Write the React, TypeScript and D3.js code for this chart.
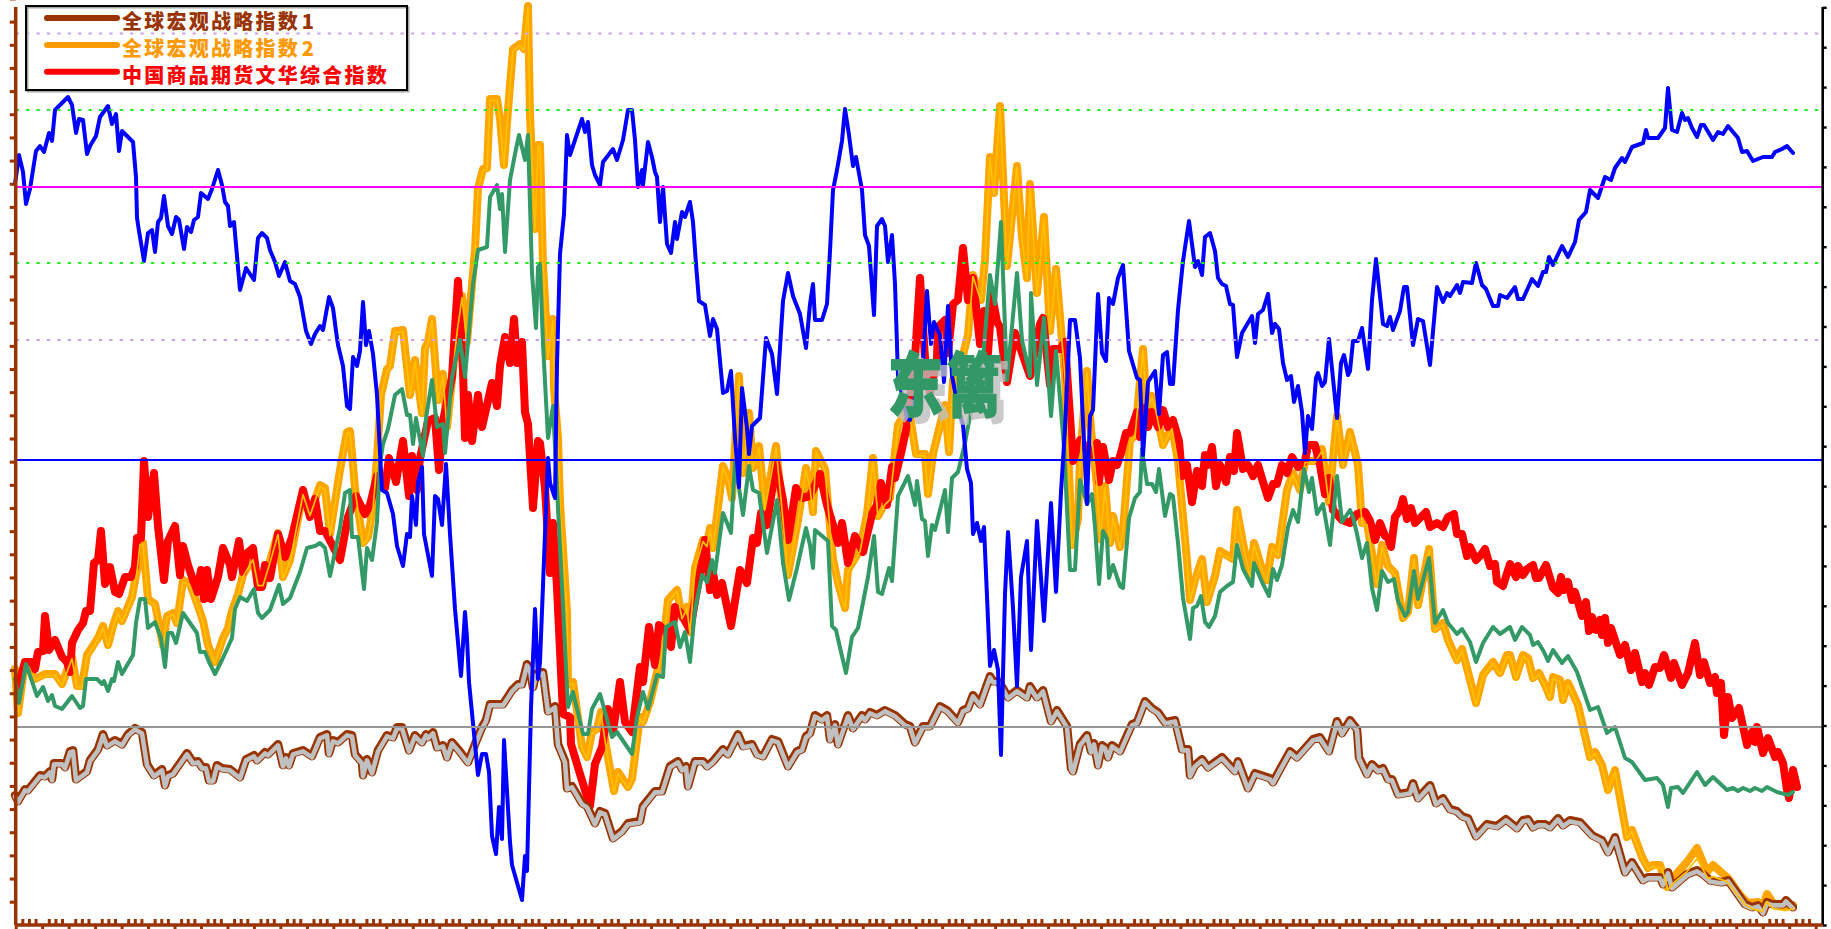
import React, { useEffect, useRef } from "react";
import * as d3 from "d3";

type Pt = [number, number];

// [session, index level]
const macro1: Pt[] = [[15,136],[18,130],[25,142],[28,141],[40,156],[45,155],[50,160],[52,152],[54,168],[62,168],[65,164],[70,180],[73,181],[76,152],[87,160],[90,171],[98,182],[103,197],[107,186],[115,191],[122,187],[128,197],[135,203],[142,199],[147,167],[154,156],[162,162],[165,146],[168,156],[173,158],[187,178],[193,169],[198,170],[202,164],[206,164],[209,151],[213,151],[217,166],[222,163],[230,162],[240,154],[246,172],[254,176],[257,171],[265,179],[268,177],[278,187],[283,166],[286,174],[289,166],[293,178],[303,181],[312,175],[320,194],[327,197],[329,178],[333,191],[338,189],[347,197],[352,196],[355,177],[362,169],[363,156],[367,172],[372,159],[378,181],[387,196],[393,194],[397,204],[402,204],[409,181],[415,196],[422,189],[426,197],[428,194],[433,199],[437,184],[443,186],[447,174],[452,189],[458,182],[468,169],[475,187],[482,204],[486,211],[490,227],[497,227],[503,227],[512,241],[518,247],[522,247],[527,267],[530,262],[533,244],[536,257],[543,259],[548,220],[555,225],[558,187],[565,170],[567,143],[572,145],[582,128],[587,125],[595,108],[600,120],[605,118],[613,93],[622,100],[628,108],[640,110],[643,125],[655,140],[662,140],[670,165],[678,170],[682,162],[686,165],[688,145],[695,170],[703,170],[707,165],[713,170],[723,182],[728,177],[738,197],[743,185],[752,187],[757,177],[763,175],[772,192],[778,190],[788,165],[797,180],[802,182],[806,195],[810,198],[815,216],[822,212],[827,216],[830,192],[835,207],[838,187],[848,216],[853,203],[862,216],[865,212],[870,219],[877,216],[885,221],[895,216],[905,207],[910,205],[915,189],[923,205],[930,205],[940,225],[947,221],[958,209],[963,221],[968,223],[973,236],[980,227],[990,255],[993,250],[998,250],[1003,243],[1008,234],[1017,241],[1027,234],[1030,245],[1037,234],[1043,241],[1051,210],[1057,221],[1067,205],[1071,163],[1073,160],[1080,187],[1087,196],[1091,180],[1094,188],[1098,166],[1102,186],[1105,184],[1108,174],[1112,186],[1120,180],[1132,207],[1137,209],[1145,230],[1152,223],[1158,219],[1165,209],[1175,211],[1182,182],[1188,182],[1190,156],[1195,166],[1202,172],[1208,164],[1222,174],[1235,160],[1238,170],[1248,143],[1255,158],[1270,153],[1273,149],[1280,162],[1290,180],[1297,174],[1313,192],[1320,194],[1329,180],[1337,210],[1342,198],[1350,211],[1357,202],[1359,174],[1367,157],[1372,167],[1378,161],[1383,163],[1388,152],[1392,152],[1398,137],[1410,139],[1413,148],[1418,133],[1430,146],[1436,128],[1443,133],[1450,122],[1457,120],[1462,115],[1468,113],[1476,95],[1487,107],[1497,105],[1506,112],[1517,103],[1523,111],[1528,112],[1533,104],[1538,107],[1545,107],[1550,104],[1558,113],[1563,106],[1570,111],[1580,109],[1592,96],[1602,91],[1608,79],[1615,94],[1625,59],[1632,69],[1643,51],[1648,54],[1660,54],[1663,47],[1668,59],[1672,44],[1687,57],[1697,61],[1703,57],[1710,51],[1722,49],[1728,51],[1745,27],[1752,24],[1758,26],[1763,19],[1767,29],[1773,27],[1783,27],[1786,31],[1793,24]];

const macro2: Pt[] = [[15,260],[18,216],[25,267],[35,250],[45,255],[55,255],[62,245],[72,272],[77,243],[82,243],[87,274],[98,291],[103,303],[108,284],[113,303],[118,318],[122,308],[132,332],[137,359],[140,386],[143,386],[148,330],[155,325],[163,284],[167,313],[173,316],[177,306],[183,349],[190,345],[198,323],[203,308],[208,284],[215,267],[223,291],[228,301],[232,318],[238,335],[243,354],[253,371],[258,345],[263,345],[270,368],[278,396],[283,352],[290,369],[303,436],[310,415],[320,444],[325,441],[330,395],[340,459],[347,497],[350,498],[355,441],[363,386],[368,392],[373,421],[377,471],[381,534],[387,560],[390,563],[395,598],[403,599],[410,534],[415,569],[422,516],[425,581],[428,587],[432,610],[438,529],[443,555],[447,502],[457,598],[462,633],[467,587],[475,679],[478,740],[483,760],[487,761],[490,830],[497,830],[500,810],[504,764],[508,819],[513,880],[520,885],[524,880],[528,923],[530,813],[535,700],[538,784],[540,784],[543,665],[548,573],[553,610],[554,541],[558,491],[560,426],[567,317],[568,245],[573,247],[582,182],[587,172],[592,197],[597,200],[601,217],[607,177],[614,138],[618,157],[628,142],[632,150],[640,212],[643,207],[650,227],[663,282],[668,329],[677,339],[682,312],[687,322],[690,297],[695,361],[703,389],[707,384],[710,401],[713,381],[723,463],[728,451],[732,431],[739,553],[743,456],[749,516],[753,461],[759,483],[765,421],[776,483],[782,421],[788,354],[798,409],[806,461],[810,442],[813,417],[816,478],[825,460],[830,402],[833,370],[838,346],[845,321],[848,359],[860,379],[867,415],[873,471],[878,413],[885,426],[890,431],[898,504],[905,515],[910,513],[916,475],[925,475],[928,435],[933,475],[945,524],[949,477],[953,549],[960,562],[968,594],[973,654],[981,629],[985,669],[990,772],[994,736],[1000,823],[1007,663],[1017,763],[1022,692],[1027,651],[1030,745],[1037,636],[1044,712],[1050,598],[1056,660],[1065,553],[1072,384],[1078,410],[1080,469],[1087,558],[1091,500],[1097,443],[1100,390],[1105,443],[1110,386],[1113,413],[1120,382],[1123,398],[1130,488],[1135,494],[1143,580],[1147,521],[1152,533],[1156,519],[1163,484],[1172,502],[1178,468],[1187,368],[1190,329],[1195,349],[1202,370],[1207,327],[1215,353],[1220,378],[1233,370],[1237,419],[1243,386],[1250,353],[1254,386],[1262,360],[1267,349],[1272,382],[1278,374],[1287,439],[1293,456],[1300,439],[1305,468],[1315,468],[1322,480],[1329,427],[1337,513],[1343,464],[1350,497],[1358,464],[1362,406],[1367,406],[1377,345],[1382,384],[1388,363],[1395,356],[1403,311],[1408,317],[1414,371],[1418,324],[1429,380],[1435,300],[1443,306],[1448,289],[1457,269],[1462,280],[1476,226],[1483,254],[1493,267],[1500,256],[1507,274],[1510,274],[1516,252],[1523,274],[1528,271],[1533,251],[1539,256],[1545,244],[1550,232],[1553,252],[1560,249],[1563,229],[1568,246],[1578,224],[1583,202],[1590,172],[1595,177],[1602,164],[1608,139],[1615,159],[1627,92],[1632,99],[1642,72],[1648,61],[1653,64],[1660,64],[1667,42],[1673,51],[1687,67],[1697,81],[1707,57],[1713,64],[1722,56],[1728,51],[1740,34],[1748,26],[1758,27],[1763,22],[1767,35],[1773,26],[1787,22],[1793,24]];

const macro2Tail: Pt[] = [[1662,62],[1668,41],[1675,49],[1687,59],[1697,72],[1708,52],[1713,54],[1727,49],[1745,26],[1752,22],[1762,19],[1767,29],[1773,22],[1785,20],[1793,22]];

const wenhua: Pt[] = [[18,243],[25,267],[32,267],[35,260],[38,277],[43,278],[45,313],[49,279],[55,289],[62,272],[67,267],[70,257],[72,286],[78,299],[83,306],[86,318],[90,318],[94,366],[98,369],[101,398],[105,345],[110,362],[115,337],[119,335],[125,352],[131,352],[135,362],[137,391],[141,391],[144,468],[148,412],[154,456],[158,403],[164,349],[168,388],[175,403],[180,354],[183,383],[188,364],[197,337],[201,359],[204,330],[207,359],[211,330],[218,352],[223,381],[230,364],[232,352],[239,388],[243,357],[247,376],[253,381],[258,342],[262,342],[265,364],[270,351],[278,395],[285,372],[292,392],[303,439],[310,412],[315,430],[320,398],[325,398],[340,369],[348,412],[356,433],[365,415],[370,424],[377,453],[385,441],[389,471],[396,447],[403,488],[409,433],[412,473],[417,439],[420,471],[428,508],[435,511],[439,459],[443,508],[452,552],[458,648],[463,558],[465,491],[468,534],[472,488],[478,534],[482,502],[492,546],[497,523],[500,563],[505,592],[510,566],[514,610],[517,566],[522,587],[525,517],[528,505],[533,421],[538,488],[540,486],[545,441],[550,356],[553,406],[557,342],[563,215],[570,212],[571,185],[580,155],[590,123],[595,165],[602,182],[608,220],[613,197],[620,247],[625,207],[632,197],[640,262],[643,247],[649,302],[655,264],[659,304],[665,299],[671,282],[675,322],[680,317],[690,299],[700,356],[705,389],[710,339],[713,356],[717,334],[722,346],[731,303],[740,359],[747,346],[753,391],[757,386],[761,416],[767,404],[776,466],[783,429],[788,389],[796,441],[802,431],[810,433],[820,455],[827,424],[833,404],[838,386],[842,406],[848,366],[855,393],[863,377],[872,415],[877,424],[881,446],[887,424],[892,462],[895,451],[902,480],[907,504],[915,571],[920,651],[925,571],[930,535],[937,571],[938,602],[945,609],[948,576],[953,625],[958,629],[963,681],[968,629],[973,651],[980,585],[984,618],[988,576],[992,634],[997,607],[1000,602],[1007,547],[1015,596],[1022,576],[1030,553],[1040,605],[1043,611],[1050,544],[1053,580],[1060,580],[1065,587],[1073,468],[1080,489],[1092,474],[1097,486],[1099,447],[1103,482],[1109,449],[1113,468],[1117,464],[1121,476],[1126,496],[1130,496],[1137,517],[1140,492],[1145,521],[1148,502],[1152,517],[1158,502],[1163,519],[1168,502],[1173,509],[1179,488],[1182,453],[1187,464],[1192,427],[1197,458],[1202,443],[1205,474],[1208,464],[1212,482],[1216,443],[1220,464],[1226,447],[1230,472],[1234,458],[1237,496],[1243,460],[1248,464],[1253,453],[1258,464],[1263,447],[1268,431],[1273,445],[1277,445],[1282,464],[1287,456],[1292,472],[1298,462],[1305,468],[1308,484],[1315,484],[1320,464],[1325,435],[1329,451],[1333,419],[1342,409],[1350,406],[1357,415],[1365,417],[1370,408],[1375,389],[1380,406],[1385,393],[1388,391],[1391,382],[1395,412],[1400,419],[1403,430],[1407,410],[1411,421],[1415,406],[1426,417],[1430,402],[1437,406],[1443,402],[1448,412],[1454,415],[1457,395],[1462,395],[1467,373],[1470,382],[1476,369],[1480,373],[1485,380],[1490,363],[1495,365],[1497,347],[1503,343],[1510,365],[1516,352],[1518,363],[1523,354],[1527,360],[1533,364],[1536,351],[1539,351],[1546,364],[1553,341],[1558,336],[1561,352],[1564,339],[1568,347],[1572,329],[1575,337],[1582,313],[1586,327],[1589,298],[1592,312],[1596,299],[1600,309],[1602,294],[1605,311],[1608,286],[1611,301],[1615,289],[1620,274],[1625,284],[1631,259],[1635,276],[1642,247],[1645,256],[1649,244],[1655,262],[1660,261],[1664,274],[1671,251],[1674,266],[1682,244],[1688,256],[1695,286],[1700,254],[1704,267],[1710,246],[1715,252],[1717,236],[1721,246],[1724,194],[1728,232],[1732,211],[1739,221],[1747,184],[1752,197],[1755,187],[1757,202],[1763,176],[1768,191],[1775,172],[1778,177],[1783,166],[1787,139],[1789,131],[1793,159],[1797,142]];

const greenSeries: Pt[] = [[15,250],[19,226],[26,265],[37,233],[43,242],[48,228],[52,234],[55,223],[62,220],[72,233],[80,221],[83,223],[86,250],[97,250],[102,245],[104,248],[108,238],[112,250],[114,248],[118,267],[122,255],[133,274],[136,306],[140,330],[145,330],[148,301],[155,307],[161,291],[165,262],[168,296],[172,296],[176,286],[183,316],[197,296],[200,277],[205,277],[209,267],[215,255],[222,269],[228,282],[232,291],[235,320],[240,332],[247,328],[254,340],[258,316],[262,311],[270,319],[279,344],[283,325],[290,331],[300,357],[307,381],[315,383],[320,386],[325,381],[330,353],[340,401],[345,436],[350,439],[352,392],[358,392],[364,340],[367,381],[372,369],[377,407],[380,465],[383,485],[388,500],[395,534],[402,540],[407,514],[410,514],[413,485],[416,511],[423,473],[426,511],[432,549],[437,502],[443,505],[445,476],[452,552],[460,589],[465,552],[473,645],[478,679],[487,682],[490,732],[497,744],[500,720],[502,735],[505,677],[510,749],[515,775],[519,794],[525,769],[528,794],[532,656],[536,601],[538,662],[540,665],[543,585],[548,491],[553,523],[557,441],[563,322],[568,222],[573,237],[583,195],[588,195],[592,220],[600,235],[612,192],[617,197],[632,175],[637,212],[643,237],[648,220],[657,254],[663,252],[666,302],[675,307],[680,282],[685,297],[690,267],[695,319],[702,354],[707,347],[712,369],[715,356],[723,416],[731,396],[735,468],[743,414],[749,463],[753,439],[759,436],[767,376],[777,429],[783,366],[789,329],[797,361],[806,401],[810,384],[813,361],[815,399],[828,388],[832,303],[836,299],[841,277],[846,256],[852,292],[858,301],[868,352],[874,393],[878,337],[882,335],[889,361],[892,348],[898,433],[908,453],[915,424],[917,448],[922,410],[925,408],[928,373],[932,404],[935,399],[945,439],[948,397],[952,451],[958,457],[965,486],[970,513],[983,571],[990,654],[995,625],[1001,707],[1007,549],[1017,656],[1022,589],[1030,553],[1031,636],[1037,544],[1044,611],[1051,513],[1056,578],[1064,482],[1070,359],[1075,359],[1080,449],[1087,425],[1092,435],[1095,402],[1099,345],[1103,398],[1107,390],[1109,351],[1113,364],[1120,343],[1123,341],[1129,411],[1135,431],[1140,437],[1142,480],[1147,445],[1152,445],[1156,437],[1159,460],[1165,413],[1170,435],[1173,433],[1178,386],[1183,331],[1190,290],[1193,321],[1197,323],[1201,333],[1205,307],[1209,302],[1215,313],[1220,337],[1227,343],[1233,347],[1237,384],[1243,360],[1252,343],[1254,366],[1262,347],[1269,333],[1273,360],[1277,349],[1282,364],[1288,402],[1293,419],[1298,407],[1304,460],[1309,437],[1312,451],[1317,415],[1323,425],[1330,384],[1337,453],[1342,407],[1350,419],[1353,412],[1357,395],[1362,371],[1367,386],[1372,341],[1377,319],[1382,358],[1388,347],[1394,350],[1398,328],[1405,313],[1408,317],[1414,358],[1418,330],[1429,371],[1435,306],[1443,319],[1448,306],[1457,295],[1462,300],[1470,287],[1476,267],[1483,286],[1493,302],[1500,295],[1510,302],[1515,289],[1522,302],[1530,294],[1533,284],[1538,287],[1544,277],[1548,268],[1553,279],[1562,266],[1568,273],[1577,257],[1590,219],[1598,222],[1607,196],[1615,202],[1625,171],[1632,167],[1645,149],[1657,151],[1663,144],[1668,122],[1671,141],[1678,142],[1683,136],[1697,157],[1705,144],[1713,152],[1727,139],[1733,141],[1738,138],[1743,141],[1750,138],[1755,141],[1762,138],[1767,142],[1777,137],[1788,134],[1793,137]];

const blueSeries: Pt[] = [[15,745],[19,774],[23,757],[26,725],[30,740],[33,759],[36,778],[40,783],[44,777],[49,796],[52,788],[55,819],[68,832],[72,824],[76,796],[79,810],[83,809],[87,775],[90,783],[96,793],[100,812],[108,823],[112,805],[116,815],[119,778],[122,798],[133,787],[136,752],[137,711],[139,698],[144,668],[148,696],[152,699],[155,677],[158,707],[161,711],[164,733],[168,703],[172,695],[176,712],[179,709],[184,680],[187,702],[191,697],[194,709],[198,712],[201,736],[208,730],[212,740],[218,759],[222,744],[225,727],[228,723],[230,703],[234,707],[240,639],[246,661],[254,649],[258,691],[262,696],[267,691],[270,679],[275,667],[279,653],[285,667],[290,648],[295,645],[300,632],[306,598],[311,585],[315,595],[320,603],[323,599],[329,632],[333,621],[336,598],[338,584],[343,563],[347,523],[350,520],[353,572],[357,563],[360,578],[363,627],[366,584],[369,598],[373,575],[377,534],[380,476],[382,439],[387,436],[393,415],[397,383],[403,363],[407,395],[410,392],[412,433],[416,404],[418,447],[422,462],[424,395],[432,353],[435,433],[438,430],[442,404],[446,465],[450,395],[455,320],[461,253],[465,317],[467,291],[469,247],[478,154],[482,175],[486,175],[489,157],[492,93],[496,75],[499,122],[502,90],[504,189],[510,87],[512,64],[522,29],[525,73],[527,58],[531,221],[535,320],[538,250],[540,267],[548,471],[550,446],[555,431],[557,565],[560,675],[564,715],[567,794],[570,774],[582,810],[585,797],[588,807],[592,764],[595,754],[600,744],[603,767],[613,780],[617,769],[623,789],[628,819],[632,819],[635,789],[638,742],[642,759],[643,744],[648,787],[652,772],[655,757],[657,752],[660,707],[663,742],[667,685],[671,676],[675,707],[677,690],[682,717],[685,712],[690,727],[693,707],[696,665],[699,628],[705,624],[710,593],[713,610],[717,600],[723,536],[727,538],[731,558],[735,491],[739,442],[742,541],[747,501],[749,475],[752,503],[760,511],[766,591],[772,575],[777,535],[783,628],[788,656],[793,633],[800,615],[806,581],[810,625],[813,645],[815,609],[822,609],[827,625],[830,678],[833,739],[837,759],[842,788],[845,820],[849,794],[853,763],[856,772],[862,739],[865,694],[869,683],[874,614],[877,703],[882,710],[885,703],[888,667],[892,694],[895,645],[898,553],[907,511],[910,509],[923,567],[927,638],[931,585],[934,607],[940,594],[944,547],[948,623],[952,553],[957,527],[963,504],[967,460],[971,446],[973,395],[977,406],[981,388],[984,402],[990,263],[994,279],[998,259],[1001,174],[1005,335],[1008,397],[1013,321],[1017,243],[1021,352],[1027,388],[1031,279],[1037,408],[1044,308],[1051,426],[1056,337],[1061,437],[1065,500],[1070,609],[1075,609],[1080,571],[1083,507],[1087,425],[1090,513],[1093,519],[1098,635],[1102,576],[1106,568],[1109,631],[1113,625],[1118,651],[1123,664],[1129,578],[1137,551],[1140,549],[1143,474],[1148,547],[1155,558],[1159,515],[1163,574],[1167,577],[1170,545],[1173,545],[1178,619],[1183,668],[1189,708],[1195,662],[1198,668],[1202,654],[1205,692],[1210,696],[1215,678],[1218,651],[1222,645],[1226,643],[1230,625],[1233,624],[1237,572],[1242,596],[1252,613],[1255,586],[1258,615],[1263,619],[1268,635],[1272,596],[1275,605],[1279,600],[1283,566],[1287,549],[1291,553],[1294,527],[1298,543],[1302,517],[1305,476],[1308,513],[1312,500],[1316,551],[1318,556],[1322,543],[1325,547],[1329,590],[1337,511],[1341,566],[1344,574],[1348,554],[1350,558],[1353,588],[1358,588],[1362,601],[1368,560],[1372,629],[1376,670],[1383,605],[1387,603],[1390,612],[1393,599],[1400,618],[1404,642],[1407,642],[1413,584],[1418,610],[1423,608],[1430,564],[1437,642],[1443,627],[1447,636],[1450,633],[1457,644],[1460,636],[1463,647],[1472,646],[1476,666],[1482,644],[1486,640],[1493,623],[1498,623],[1500,634],[1507,631],[1515,642],[1518,630],[1523,630],[1532,650],[1538,643],[1543,657],[1546,657],[1549,672],[1553,664],[1562,683],[1568,672],[1575,687],[1579,709],[1586,717],[1590,739],[1598,731],[1605,752],[1611,749],[1615,761],[1622,771],[1625,767],[1632,782],[1643,786],[1646,799],[1648,791],[1658,791],[1665,801],[1668,841],[1672,799],[1677,797],[1682,816],[1685,809],[1688,811],[1692,801],[1697,792],[1701,804],[1704,804],[1713,789],[1718,797],[1723,795],[1728,803],[1738,791],[1742,777],[1747,778],[1753,768],[1763,772],[1772,772],[1775,777],[1782,780],[1787,783],[1793,776]];

const purpleLevels = [895.5, 589];
const greenLevels = [819, 666];
const magentaLevel = 742;
const blueLevel = 469;
const greyLevel = 202;

const legendLabels = ["全球宏观战略指数 1", "全球宏观战略指数 2", "中国商品期货文华综合指数"];
const legendColors = ["#993300", "#FF9900", "#FF0000"];
const watermark = ["东", "篱"];

const WIDTH = 1831;
const HEIGHT = 929;
const x = d3.scaleLinear().domain([0, WIDTH]).range([0, WIDTH]);
const y = d3.scaleLinear().domain([0, HEIGHT]).range([HEIGHT, 0]);
const line = d3.line<Pt>().x((d) => x(d[0])).y((d) => y(d[1])).curve(d3.curveLinear);

const axisLeftX = 15.7;
const axisRightX = 1822.7;
const axisBottomY = 925;
const axisTopY = 7;
const leftTicks = d3.range(40).map((k) => HEIGHT - (901.7 - 23.16 * k));
const rightTicks = d3.range(24).map((k) => HEIGHT - (925 - 39.9 * k));
const majorStep = 26.47;
const xMajor = d3.range(69).map((k) => axisLeftX + majorStep * k);
const xMinor = d3.range(68).flatMap((k) => [1, 2, 3].map((m) => axisLeftX + majorStep * k + (m * majorStep) / 4));

function Path({ data, color, width, dy = 0 }: { data: Pt[]; color: string; width: number; dy?: number }) {
  return (
    <path
      d={line(data) as string}
      fill="none"
      stroke={color}
      strokeWidth={width}
      strokeLinejoin="round"
      strokeLinecap="round"
      transform={dy ? `translate(0,${dy})` : undefined}
    />
  );
}

function Hline({ level, color, width, dash }: { level: number; color: string; width: number; dash?: string }) {
  return (
    <line x1={axisLeftX} x2={axisRightX} y1={y(level)} y2={y(level)} stroke={color} strokeWidth={width} strokeDasharray={dash} />
  );
}

export default function App() {
  const leftRef = useRef<SVGGElement>(null);
  const rightRef = useRef<SVGGElement>(null);
  const majorRef = useRef<SVGGElement>(null);
  const minorRef = useRef<SVGGElement>(null);

  useEffect(() => {
    const style = (g: d3.Selection<SVGGElement, unknown, null, undefined>, color: string, dw: number, tw: number) => {
      g.selectAll(".domain").attr("stroke", color).attr("stroke-width", dw);
      g.selectAll(".tick line").attr("stroke", color).attr("stroke-width", tw);
      g.selectAll("text").remove();
    };
    const yAxis = d3.scaleLinear().domain([0, HEIGHT]).range([HEIGHT, 0]);
    d3.select(leftRef.current!)
      .attr("transform", `translate(${axisLeftX},0)`)
      .call(d3.axisLeft(yAxis).tickValues(leftTicks).tickSize(6).tickSizeOuter(0) as any)
      .call((g: any) => style(g, "#993300", 3.5, 3));
    d3.select(leftRef.current!).select(".domain").attr("d", `M0,${axisTopY}V${axisBottomY}`);

    d3.select(rightRef.current!)
      .attr("transform", `translate(${axisRightX},0)`)
      .call(d3.axisRight(yAxis).tickValues(rightTicks).tickSize(4).tickSizeOuter(0) as any)
      .call((g: any) => style(g, "#000000", 2.6, 2.4));
    d3.select(rightRef.current!).select(".domain").attr("d", `M0,${axisTopY}V${axisBottomY}`);

    d3.select(majorRef.current!)
      .attr("transform", `translate(0,${axisBottomY})`)
      .call(d3.axisBottom(x).tickValues(xMajor).tickSize(5).tickSizeOuter(0) as any)
      .call((g: any) => style(g, "#993300", 3.5, 3));
    d3.select(majorRef.current!).select(".domain").attr("d", `M${axisLeftX},0H${axisRightX}`);

    d3.select(minorRef.current!)
      .attr("transform", `translate(0,${axisBottomY})`)
      .call(d3.axisTop(x).tickValues(xMinor).tickSize(6).tickSizeOuter(0) as any)
      .call((g: any) => style(g, "#993300", 0, 3));
    d3.select(minorRef.current!).select(".domain").remove();
  }, []);

  const goldData: Pt[] = [...macro2.filter((d) => d[0] < 1660), ...macro2Tail];

  return (
    <svg
      width={WIDTH}
      height={HEIGHT}
      viewBox={`0 0 ${WIDTH} ${HEIGHT}`}
      style={{ position: "fixed", left: 0, top: 0, display: "block", background: "#fff" }}
    >
      <defs>
        <filter id="markShadow" x="-30%" y="-30%" width="170%" height="170%">
          <feDropShadow dx={7} dy={6} stdDeviation={0.6} floodColor="#BDBDBD" floodOpacity={0.8} />
        </filter>
      </defs>

      <Path data={macro2} color="#FFA500" width={8} />
      <Path data={wenhua} color="#FF0000" width={8} />
      <Path data={macro1} color="#993300" width={8.5} dy={2.2} />
      <Path data={macro1} color="#C0C0C0" width={4.6} dy={3.4} />
      <Path data={goldData} color="#FFC000" width={1.7} dy={1.6} />
      <Path data={greenSeries} color="#339966" width={4} />
      <Path data={blueSeries} color="#0000FF" width={4} />

      {purpleLevels.map((l) => (
        <Hline key={l} level={l} color="#CCA3E8" width={2} dash="3.3 7.1" />
      ))}
      {greenLevels.map((l) => (
        <Hline key={l} level={l} color="#22EE22" width={2} dash="3.3 7.1" />
      ))}
      <Hline level={magentaLevel} color="#FF00FF" width={2} />
      <Hline level={blueLevel} color="#0000FF" width={2} />
      <Hline level={greyLevel} color="#969696" width={2} />

      <g ref={leftRef} />
      <g ref={rightRef} />
      <g ref={majorRef} />
      <g ref={minorRef} />

      <g fontFamily="'Noto Sans CJK SC'" fontWeight={900} fontSize={55} filter="url(#markShadow)">
        {watermark.map((c, i) => (
          <text
            key={c}
            transform={`translate(${888 + i * 59},411) scale(1,1.25)`}
            fill="#339966"
            stroke="#339966"
            strokeWidth={1.5}
            strokeLinejoin="round"
          >
            {c}
          </text>
        ))}
      </g>

      <rect x={27.5} y={7.5} width={381} height={84} fill="none" stroke="#A6A6A6" strokeWidth={2} />
      <rect x={26} y={6} width={381} height={84} fill="none" stroke="#000" strokeWidth={2} />
      {legendLabels.map((label, i) => (
        <g key={label}>
          <line x1={47} x2={117} y1={18 + i * 26.9} y2={18 + i * 26.9} stroke={legendColors[i]} strokeWidth={6} strokeLinecap="round" />
          <text
            x={122}
            y={29 + i * 26.9}
            fill={legendColors[i]}
            fontFamily="'Noto Sans CJK SC'"
            fontWeight={900}
            fontSize={20}
            letterSpacing={2.25}
            wordSpacing={-5}
            xmlSpace="preserve"
          >
            {label}
          </text>
        </g>
      ))}
    </svg>
  );
}
